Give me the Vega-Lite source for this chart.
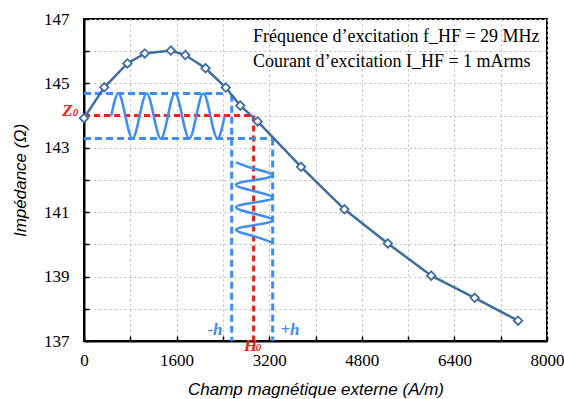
{
  "$schema": "https://vega.github.io/schema/vega-lite/v6.json",
  "width": 463,
  "height": 322,
  "autosize": {"type": "none"},
  "padding": {"left": 84, "top": 19, "right": 17, "bottom": 58},
  "background": "white",
  "config": {
    "view": {"stroke": "black", "strokeWidth": 2},
    "axis": {
      "labelFont": "Liberation Serif",
      "labelFontSize": 17,
      "labelColor": "black",
      "labelFlush": false,
      "titleFont": "Liberation Sans",
      "titleFontStyle": "italic",
      "titleFontWeight": "normal",
      "titleFontSize": 17,
      "titleColor": "black",
      "gridColor": "#b8b8b8",
      "gridDash": [2, 3],
      "gridWidth": 1,
      "domainColor": "black",
      "domainWidth": 2,
      "tickColor": "black",
      "tickWidth": 1.5,
      "tickSize": -5
    }
  },
  "datasets": {
    "curve": [
      {"x": 0, "y": 143.92}, {"x": 350, "y": 144.88}, {"x": 750, "y": 145.62},
      {"x": 1050, "y": 145.93}, {"x": 1500, "y": 146.02}, {"x": 1750, "y": 145.88},
      {"x": 2100, "y": 145.47}, {"x": 2450, "y": 144.87}, {"x": 2700, "y": 144.31},
      {"x": 3000, "y": 143.82}, {"x": 3750, "y": 142.41}, {"x": 4500, "y": 141.09},
      {"x": 5250, "y": 140.03}, {"x": 6000, "y": 139.03}, {"x": 6750, "y": 138.34},
      {"x": 7500, "y": 137.63}
    ],
    "blueDash": [
      {"x": 0, "x2": 2450, "y": 144.69, "y2": 144.69},
      {"x": 0, "x2": 3290, "y": 143.29, "y2": 143.29},
      {"x": 2552, "x2": 2552, "y": 144.65, "y2": 137},
      {"x": 3260, "x2": 3260, "y": 143.29, "y2": 137}
    ],
    "redDash": [
      {"x": 0, "x2": 2935, "y": 144.0, "y2": 144.0},
      {"x": 2930, "x2": 2930, "y": 144.0, "y2": 137}
    ],
    "waveH": [
      {"i": 1, "x": 470, "y": 143.99}, {"i": 2, "x": 593, "y": 144.69},
      {"i": 3, "x": 715, "y": 143.99}, {"i": 4, "x": 838, "y": 143.29},
      {"i": 5, "x": 960, "y": 143.99}, {"i": 6, "x": 1083, "y": 144.69},
      {"i": 7, "x": 1205, "y": 143.99}, {"i": 8, "x": 1328, "y": 143.29},
      {"i": 9, "x": 1450, "y": 143.99}, {"i": 10, "x": 1572, "y": 144.69},
      {"i": 11, "x": 1695, "y": 143.99}, {"i": 12, "x": 1818, "y": 143.29},
      {"i": 13, "x": 1940, "y": 143.99}, {"i": 14, "x": 2062, "y": 144.69},
      {"i": 15, "x": 2185, "y": 143.99}, {"i": 16, "x": 2308, "y": 143.29},
      {"i": 17, "x": 2430, "y": 143.99}
    ],
    "waveV": [
      {"i": 1, "x": 2626, "y": 142.55}, {"i": 2, "x": 2944, "y": 142.35},
      {"i": 3, "x": 3262, "y": 142.15}, {"i": 4, "x": 2944, "y": 142.0},
      {"i": 5, "x": 2626, "y": 141.85}, {"i": 6, "x": 2944, "y": 141.65},
      {"i": 7, "x": 3262, "y": 141.45}, {"i": 8, "x": 2944, "y": 141.3},
      {"i": 9, "x": 2626, "y": 141.15}, {"i": 10, "x": 2944, "y": 140.95},
      {"i": 11, "x": 3262, "y": 140.75}, {"i": 12, "x": 2944, "y": 140.6},
      {"i": 13, "x": 2626, "y": 140.45}, {"i": 14, "x": 2944, "y": 140.25},
      {"i": 15, "x": 3262, "y": 140.05}
    ],
    "info": [
      {"x": 2920, "y": 146.45, "t": "Fréquence d’excitation f_HF = 29 MHz"},
      {"x": 2920, "y": 145.67, "t": "Courant d’excitation I_HF = 1 mArms"}
    ],
    "redLetters": [
      {"x": -285, "y": 144.15, "t": "Z"},
      {"x": 2877, "y": 136.84, "t": "H"}
    ],
    "blueLabels": [
      {"x": 2263, "y": 137.34, "t": "-h"},
      {"x": 3559, "y": 137.34, "t": "+h"}
    ]
  },
  "encoding": {
    "x": {
      "field": "x", "type": "quantitative",
      "scale": {"domain": [0, 8000], "nice": false, "zero": false},
      "axis": {
        "title": "Champ magnétique externe (A/m)",
        "values": [0, 800, 1600, 2400, 3200, 4000, 4800, 5600, 6400, 7200, 8000],
        "labelExpr": "datum.value % 1600 === 0 ? datum.label : ''",
        "format": "d",
        "labelPadding": 16,
        "titleY": 48,
        "titleBaseline": "middle"
      }
    },
    "y": {
      "field": "y", "type": "quantitative",
      "scale": {"domain": [137, 147], "nice": false, "zero": false},
      "axis": {
        "title": "Impédance (Ω)",
        "values": [137, 138, 139, 140, 141, 142, 143, 144, 145, 146, 147],
        "labelExpr": "datum.value % 2 === 1 ? datum.label : ''",
        "format": "d",
        "labelPadding": 20,
        "titleX": -64,
        "titleY": 161,
        "titleAngle": -90,
        "titleBaseline": "middle",
        "titleAlign": "center"
      }
    }
  },
  "layer": [
    {
      "data": {"name": "redDash"},
      "mark": {"type": "rule", "color": "#E2261C", "strokeWidth": 3, "strokeDash": [6, 4]},
      "encoding": {"x2": {"field": "x2"}, "y2": {"field": "y2"}}
    },
    {
      "data": {"name": "blueDash"},
      "mark": {"type": "rule", "color": "#3F8DF0", "strokeWidth": 3, "strokeDash": [7, 4]},
      "encoding": {"x2": {"field": "x2"}, "y2": {"field": "y2"}}
    },
    {
      "data": {"name": "waveH"},
      "mark": {"type": "line", "color": "#3F8DF0", "strokeWidth": 2.5, "interpolate": "natural"},
      "encoding": {"order": {"field": "i", "type": "quantitative"}}
    },
    {
      "data": {"name": "waveV"},
      "mark": {"type": "line", "color": "#3F8DF0", "strokeWidth": 2.5, "interpolate": "natural"},
      "encoding": {"order": {"field": "i", "type": "quantitative"}}
    },
    {
      "data": {"name": "curve"},
      "mark": {"type": "line", "color": "#3F6E9E", "strokeWidth": 2.5},
      "encoding": {}
    },
    {
      "data": {"name": "curve"},
      "mark": {"type": "point", "shape": "diamond", "filled": true, "fill": "white", "stroke": "#3F6E9E", "strokeWidth": 1.8, "size": 72, "opacity": 1},
      "encoding": {}
    },
    {
      "data": {"name": "info"},
      "mark": {"type": "text", "font": "Liberation Serif", "fontSize": 18, "align": "left", "baseline": "middle", "color": "black"},
      "encoding": {"text": {"field": "t"}}
    },
    {
      "data": {"name": "redLetters"},
      "mark": {"type": "text", "font": "Liberation Serif", "fontSize": 17, "fontWeight": "bold", "fontStyle": "italic", "align": "center", "baseline": "middle", "color": "#E2261C"},
      "encoding": {"text": {"field": "t"}}
    },
    {
      "data": {"name": "redLetters"},
      "mark": {"type": "text", "font": "Liberation Serif", "fontSize": 11, "fontWeight": "bold", "fontStyle": "italic", "align": "center", "baseline": "middle", "color": "#E2261C", "dx": 8, "dy": 2},
      "encoding": {"text": {"value": "0"}}
    },
    {
      "data": {"name": "blueLabels"},
      "mark": {"type": "text", "font": "Liberation Serif", "fontSize": 17, "fontWeight": "bold", "fontStyle": "italic", "align": "center", "baseline": "middle", "color": "#3F8DF0"},
      "encoding": {"text": {"field": "t"}}
    }
  ]
}
